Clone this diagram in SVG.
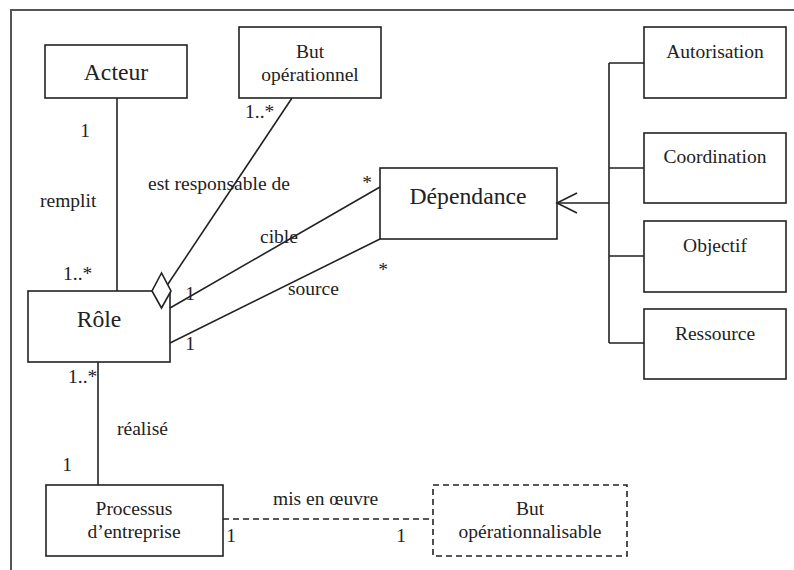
<svg xmlns="http://www.w3.org/2000/svg" width="794" height="570" viewBox="0 0 794 570">
<style>
.box{fill:#fff;stroke:#222;stroke-width:1.6}
.dbox{fill:#fff;stroke:#222;stroke-width:1.6;stroke-dasharray:6,4}
.ln{fill:none;stroke:#222;stroke-width:1.6}
.dl{fill:none;stroke:#222;stroke-width:1.6;stroke-dasharray:6,4}
text{font-family:'Liberation Serif','Tinos','Times New Roman','DejaVu Serif',serif;fill:#222;font-size:19.5px}
.big{font-size:23.7px}
.c{text-anchor:middle}
</style>
<rect width="794" height="570" fill="#fff"/>
<path d="M11,570 V10 H794" fill="none" stroke="#555" stroke-width="2"/>
<g id="acteur"><rect class="box" x="45" y="45" width="142" height="53"/><text class="big c" x="116" y="80">Acteur</text></g>
<g id="but-operationnel"><rect class="box" x="239" y="27" width="142" height="71"/><text class="c" x="310" y="58">But</text><text class="c" x="310" y="81">opérationnel</text></g>
<g id="dependance"><rect class="box" x="380" y="168" width="177" height="71"/><text class="big c" x="468" y="204">Dépendance</text></g>
<g id="autorisation"><rect class="box" x="644" y="27" width="142" height="71"/><text class="c" x="715" y="58">Autorisation</text></g>
<g id="coordination"><rect class="box" x="644" y="133" width="142" height="70"/><text class="c" x="715" y="163">Coordination</text></g>
<g id="objectif"><rect class="box" x="644" y="221" width="142" height="71"/><text class="c" x="715" y="252">Objectif</text></g>
<g id="ressource"><rect class="box" x="644" y="309" width="142" height="70"/><text class="c" x="715" y="340">Ressource</text></g>
<g id="role"><rect class="box" x="28" y="291" width="142" height="71"/><text class="big c" x="99" y="327">Rôle</text></g>
<g id="processus"><rect class="box" x="46" y="485" width="177" height="71"/><text class="c" x="134" y="515">Processus</text><text class="c" x="134" y="538">d’entreprise</text></g>
<g id="but-operationnalisable"><rect class="dbox" x="433" y="485" width="194" height="71"/><text class="c" x="530" y="515">But</text><text class="c" x="530" y="538">opérationnalisable</text></g>
<g id="connectors">
<line class="ln" x1="117" y1="98" x2="117" y2="291"/>
<line class="ln" x1="292" y1="98" x2="166" y2="287"/>
<line class="ln" x1="170" y1="308" x2="380" y2="187"/>
<line class="ln" x1="170" y1="343" x2="380" y2="239"/>
<line class="ln" x1="98" y1="362" x2="98" y2="485"/>
<line class="dl" x1="223" y1="519" x2="433" y2="519"/>
<path class="ln" d="M557,203 H609 M609,63 V343 M609,63 H644 M609,168 H644 M609,256 H644 M609,343 H644"/>
<path class="ln" d="M577,193 L557,203 L577,213"/>
<polygon points="161.5,273 152,291 161.5,308 171,291" fill="#fff" stroke="#222" stroke-width="1.6"/>
<text x="85" y="137" class="c">1</text>
<text x="40" y="207">remplit</text>
<text x="63" y="280">1..*</text>
<text x="245" y="118">1..*</text>
<text x="148" y="190">est responsable de</text>
<text x="367" y="189" class="c">*</text>
<text x="260" y="243">cible</text>
<text x="190" y="300" class="c">1</text>
<text x="383" y="276" class="c">*</text>
<text x="288" y="295">source</text>
<text x="190" y="350" class="c">1</text>
<text x="68" y="383">1..*</text>
<text x="117" y="435">réalisé</text>
<text x="67" y="471" class="c">1</text>
<text x="273" y="505">mis en œuvre</text>
<text x="231" y="542" class="c">1</text>
<text x="401" y="542" class="c">1</text>
</g>
</svg>
